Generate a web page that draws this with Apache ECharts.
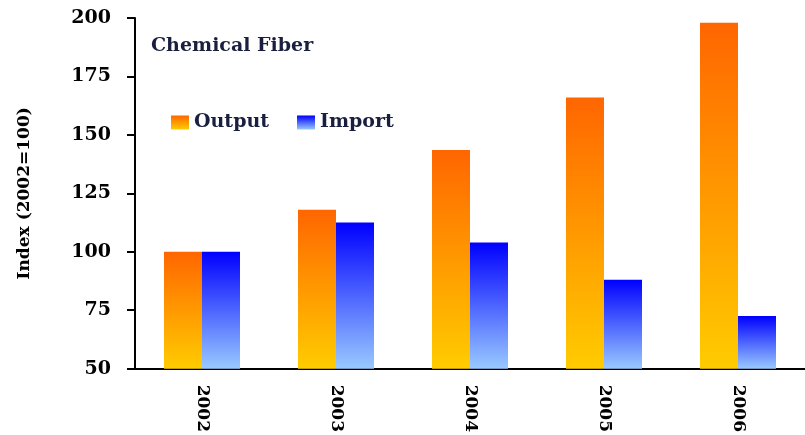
<!DOCTYPE html>
<html><head><meta charset="utf-8">
<script src="https://cdn.jsdelivr.net/npm/echarts@6/dist/echarts.min.js"></script>
<style>html,body{margin:0;padding:0;background:#fff}#c{width:805px;height:435px}</style>
</head><body><div id="c"></div>
<script>
const categories = ['2002','2003','2004','2005','2006'];
const outputValues = [100, 118, 143.5, 166, 198];
const importValues = [100, 112.5, 104, 88, 72.5];
const yTicks = [50, 75, 100, 125, 150, 175, 200];

const font = 'DejaVu Serif';
const chart = echarts.init(document.getElementById('c'));
const grad = (top, bottom) => new echarts.graphic.LinearGradient(0, 0, 0, 1, [
  {offset: 0, color: top}, {offset: 1, color: bottom}
]);
chart.setOption({
  animation: false,
  backgroundColor: '#fff',
  title: {
    text: 'Chemical Fiber', left: 146, top: 32,
    textStyle: {fontFamily: font, fontWeight: 'bold', fontSize: 19, color: '#1a1f3f'}
  },
  legend: {
    left: 166, top: 108, itemWidth: 18, itemHeight: 14, itemGap: 28,
    icon: 'rect',
    textStyle: {fontFamily: font, fontWeight: 'bold', fontSize: 19, color: '#1a1f3f'},
    data: ['Output', 'Import']
  },
  grid: {left: 135, right: 0, top: 18, bottom: 63},
  xAxis: {
    type: 'category', data: categories,
    axisLine: {lineStyle: {color: '#000', width: 2}},
    axisTick: {lineStyle: {color: '#000', width: 2}, length: 6},
    axisLabel: {rotate: -90, margin: 16, fontFamily: font, fontWeight: 'bold', fontSize: 17, color: '#000'}
  },
  yAxis: {
    type: 'value', min: 50, max: 200, interval: 25,
    name: 'Index (2002=100)', nameLocation: 'middle', nameGap: 102, nameRotate: 90,
    nameTextStyle: {fontFamily: font, fontWeight: 'bold', fontSize: 17, color: '#000'},
    splitLine: {show: false},
    axisLine: {show: true, lineStyle: {color: '#000', width: 2}},
    axisTick: {show: true, lineStyle: {color: '#000', width: 2}, length: 8},
    axisLabel: {margin: 24, fontFamily: font, fontWeight: 'bold', fontSize: 19, color: '#000',
      formatter: v => yTicks.includes(v) ? String(v) : ''}
  },
  series: [
    {name: 'Output', type: 'bar', data: outputValues, barWidth: 38, barGap: '0%',
     itemStyle: {color: grad('#ff6600', '#ffcc00')}},
    {name: 'Import', type: 'bar', data: importValues, barWidth: 38,
     itemStyle: {color: grad('#0000ff', '#99c9ff')}}
  ]
});
</script></body></html>
